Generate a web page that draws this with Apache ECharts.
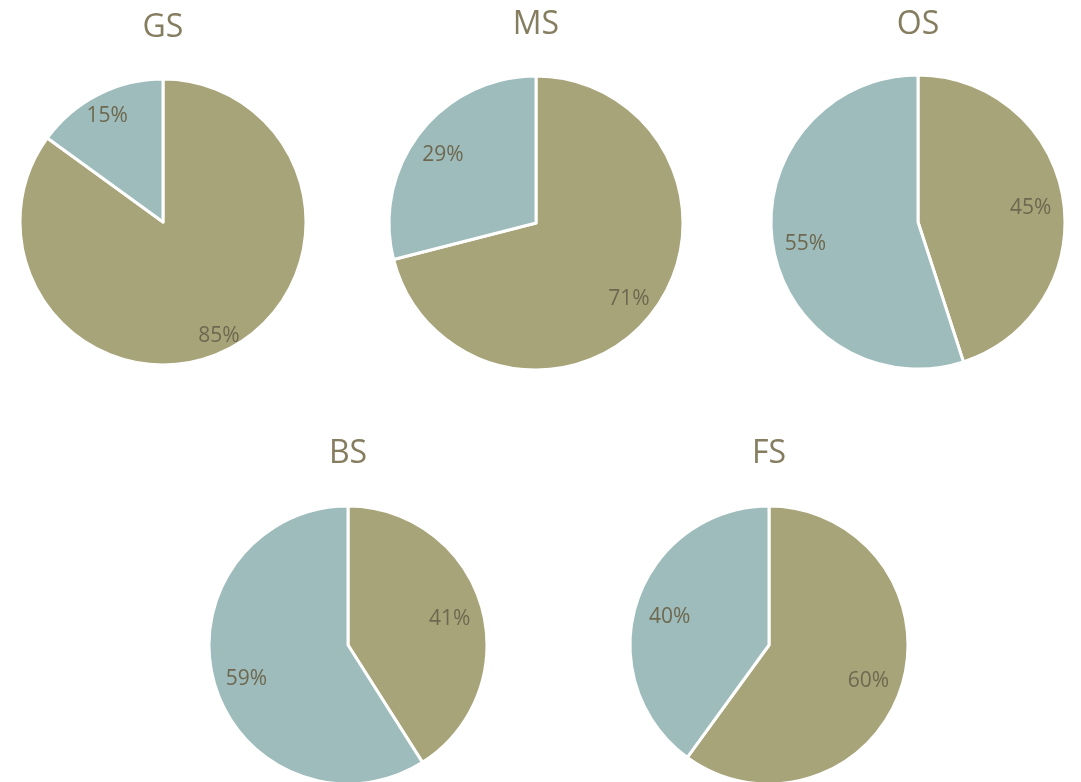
<!DOCTYPE html>
<html><head><meta charset="utf-8">
<script src="https://cdn.jsdelivr.net/npm/echarts@6/dist/echarts.min.js"></script>
<style>html,body{margin:0;padding:0;background:#fff}#c{width:1081px;height:782px}</style>
</head><body><div id="c"></div>
<script>
const names = ['GS','MS','OS','BS','FS'];
const olive = [85, 71, 45, 41, 60];
const teal = [15, 29, 55, 59, 40];
const centers = [[163,222],[536,223],[918,222],[348,645],[769,645]];
const radii = [143,147,147,139,139];
const labelInner = [0.68,0.56,0.51,0.48,0.46];
const titleTops = [12,9,9,438,438];
const colors = ['#a8a47a','#9dbcbb'];
const font = '"Open Sans", "Noto Sans", sans-serif';

const series = [];
const titles = [];
names.forEach((n,i)=>{
  const data = [{name:'A', value: olive[i]},{name:'B', value: teal[i]}];
  series.push({
    type:'pie', center: centers[i], radius:[0, radii[i]], startAngle:90, clockwise:true,
    silent:true, animation:false, label:{show:false}, labelLine:{show:false},
    itemStyle:{borderColor:'#fff', borderWidth:3},
    color: colors, data
  });
  series.push({
    type:'pie', center: centers[i], radius:[radii[i]*labelInner[i], radii[i]], startAngle:90, clockwise:true,
    silent:true, animation:false,
    itemStyle:{color:'rgba(0,0,0,0)'},
    label:{show:true, position:'inside', formatter:'{c}%', color:'#6e6850', fontSize:21, fontFamily:font},
    labelLayout:{dy:4},
    labelLine:{show:false}, data
  });
  titles.push({text:n, left:centers[i][0], top:titleTops[i], textAlign:'center', padding:0,
    textStyle:{color:'#857d5f', fontSize:32, fontWeight:'normal', fontFamily:font}});
});
const chart = echarts.init(document.getElementById('c'));
chart.setOption({animation:false, title:titles, series});
</script></body></html>
